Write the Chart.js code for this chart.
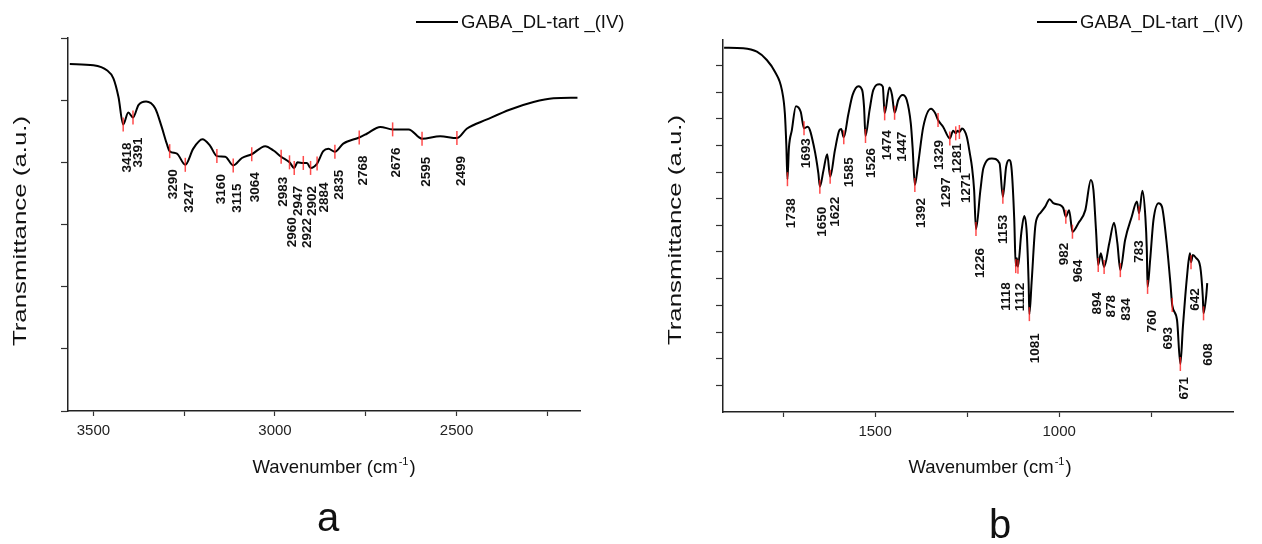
<!DOCTYPE html>
<html>
<head>
<meta charset="utf-8">
<script src="https://cdn.jsdelivr.net/npm/chart.js@4.4.1/dist/chart.umd.min.js"></script>
<style>
  body { margin: 0; background: #fff; }
  #wrap { position: relative; width: 1262px; height: 544px; }
  canvas { position: absolute; top: 0; }
  #panelA { left: 0; }
  #panelB { left: 640px; }
</style>
</head>
<body>
<div id="wrap">
  <canvas id="panelA" width="640" height="544"></canvas>
  <canvas id="panelB" width="622" height="544"></canvas>
</div>
<script>
// Panel a: 3570 - 2160 cm-1
var wavenumberA = [3565, 3500, 3463, 3445, 3431, 3418, 3404, 3391, 3376, 3355,
    3330, 3312, 3298, 3290, 3270, 3247, 3225, 3200, 3179, 3160,
    3137, 3115, 3091, 3064, 3027, 3004, 2983, 2960, 2947, 2938,
    2922, 2912, 2902, 2884, 2867, 2853, 2835, 2812, 2768, 2747,
    2710, 2676, 2632, 2595, 2545, 2499, 2472, 2416, 2352, 2288,
    2233, 2167];
var transmittanceA = [5.58, 5.56, 5.48, 5.35, 5.05, 4.61, 4.80, 4.72, 4.92, 4.98,
    4.87, 4.57, 4.30, 4.18, 4.14, 3.96, 4.22, 4.37, 4.27, 4.10,
    4.09, 3.95, 4.07, 4.13, 4.26, 4.19, 4.09, 4.00, 3.91, 4.00,
    3.99, 3.99, 3.91, 3.98, 4.18, 4.22, 4.17, 4.30, 4.40, 4.46,
    4.57, 4.53, 4.53, 4.38, 4.42, 4.39, 4.54, 4.69, 4.85, 4.97,
    5.03, 5.04];
var peaksA = [3418, 3391, 3290, 3247, 3160, 3115, 3064, 2983, 2960, 2947,
    2922, 2902, 2884, 2835, 2768, 2676, 2595, 2499];

// Panel b: 1915 - 530 cm-1
var wavenumberB = [1910, 1858, 1821, 1794, 1772, 1753, 1745, 1741, 1738, 1734,
    1726, 1715, 1702, 1693, 1683, 1666, 1654, 1650, 1640, 1630,
    1622, 1609, 1597, 1592, 1585, 1573, 1561, 1545, 1535, 1530,
    1526, 1515, 1505, 1488, 1479, 1474, 1461, 1454, 1447, 1437,
    1425, 1414, 1403, 1398, 1392, 1384, 1369, 1348, 1337, 1329,
    1315, 1297, 1288, 1281, 1276, 1271, 1264, 1251, 1242, 1237,
    1231, 1226, 1214, 1206, 1183, 1162, 1153, 1144, 1136, 1129,
    1122, 1118, 1115, 1112, 1103, 1095, 1088, 1083, 1081, 1075,
    1065, 1056, 1052, 1038, 1026, 1016, 997, 989, 982, 973,
    964, 948, 929, 914, 907, 900, 894, 887, 878, 864,
    851, 842, 834, 821, 803, 789, 783, 774, 766, 762,
    760, 753, 744, 730, 721, 709, 698, 693, 680, 671,
    664, 653, 645, 642, 637, 628, 617, 610, 608, 601,
    598];
var transmittanceB = [13.66, 13.64, 13.51, 13.20, 12.76, 12.07, 11.20, 10.00, 8.73, 9.90,
    10.57, 11.47, 11.26, 10.64, 10.70, 9.95, 8.95, 8.45, 9.07, 9.67,
    8.82, 9.82, 10.57, 10.61, 10.30, 11.14, 11.89, 12.22, 12.07, 11.45,
    10.35, 11.32, 12.07, 12.29, 12.20, 11.20, 12.17, 11.89, 11.22, 11.70,
    11.89, 11.70, 10.82, 9.90, 8.51, 9.20, 10.70, 11.37, 11.21, 10.95,
    10.69, 10.26, 10.55, 10.45, 10.55, 10.50, 10.63, 10.32, 9.64, 9.20,
    8.32, 6.86, 8.32, 9.14, 9.51, 9.33, 8.07, 9.20, 9.45, 9.07,
    7.20, 5.47, 5.77, 5.45, 6.70, 7.35, 6.70, 4.83, 3.67, 4.84,
    6.95, 7.39, 7.45, 7.70, 7.98, 7.83, 7.76, 7.65, 7.32, 7.57,
    6.76, 7.08, 7.57, 8.70, 8.32, 6.82, 5.51, 5.95, 5.44, 6.33,
    7.10, 6.33, 5.32, 6.45, 7.32, 7.89, 7.45, 8.30, 7.32, 6.07,
    4.69, 5.70, 7.20, 7.83, 7.70, 6.45, 4.83, 4.01, 3.45, 1.80,
    3.20, 5.07, 5.95, 5.62, 5.89, 5.77, 5.45, 4.32, 3.70, 4.32,
    4.83];
var peaksB = [1738, 1693, 1650, 1622, 1585, 1526, 1474, 1447, 1392, 1329,
    1297, 1281, 1271, 1226, 1153, 1118, 1112, 1081, 982, 964,
    894, 878, 834, 783, 760, 693, 671, 642, 608];

var seriesName = 'GABA_DL-tart _(IV)';
var FONT = '"Liberation Sans", Arial, Helvetica, sans-serif';

// where each peak label sits relative to its red mark (dx, dy in px)
var labelShiftA = { 2983: [2, 20], 2960: [3, 55], 2922: [4, 55], 2902: [2, 18], 2884: [7, 19], 3391: [5, 20] };
var labelShiftB = {
    1693: [2, 10], 1650: [2, 20], 1622: [5, 20], 1585: [6, 20], 1526: [6, 12],
    1474: [3, 17], 1447: [8, 19], 1392: [6, 13], 1329: [1, 20], 1297: [-4, 39],
    1281: [2, 10], 1271: [7, 41], 1153: [0, 18], 1118: [-9, 16], 1112: [2, 16],
    1081: [6, 19], 982: [-2, 26], 964: [6, 28], 894: [-1, 27], 878: [7, 28],
    834: [6, 28], 783: [0, 27], 760: [5, 23], 693: [-4, 22], 671: [4, 13],
    642: [4, 26], 608: [5, 30]
};

// rotated text, reading upwards; stretch > 1 lengthens it along its direction
function vText(ctx, text, x, y, align, stretch) {
    ctx.save();
    ctx.translate(x, y);
    ctx.rotate(-Math.PI / 2);
    if (stretch) ctx.scale(stretch, 1);
    ctx.textAlign = align;
    ctx.textBaseline = 'middle';
    ctx.fillText(text, 0, 0);
    ctx.restore();
}

var decorPlugin = {
    id: 'decor',
    afterDatasetsDraw: function(chart) {
        var o = chart.options.plugins.decor;
        var ctx = chart.ctx;
        var area = chart.chartArea;

        // peak labels
        ctx.save();
        ctx.fillStyle = '#111';
        ctx.font = 'bold 13.5px ' + FONT;
        chart.getDatasetMeta(1).data.forEach(function(pt, i) {
            var p = o.peaks[i];
            var s = o.shift[p] || o.defShift;
            vText(ctx, String(p), pt.x + s[0], pt.y + s[1], 'right');
        });
        ctx.restore();

        // legend
        ctx.save();
        ctx.strokeStyle = '#000';
        ctx.lineWidth = 2;
        ctx.beginPath();
        ctx.moveTo(o.legend[0], o.legend[2]);
        ctx.lineTo(o.legend[1], o.legend[2]);
        ctx.stroke();
        ctx.fillStyle = '#111';
        ctx.font = '18.5px ' + FONT;
        ctx.textBaseline = 'middle';
        ctx.fillText(seriesName, o.legend[1] + 3, o.legend[2] + 1);

        // y title
        ctx.font = '19px ' + FONT;
        vText(ctx, 'Transmittance (a.u.)', o.yTitle[0], o.yTitle[1], 'center', 1.36);

        // x title with superscript
        var main = 'Wavenumber (cm', sup = '-1', end = ')';
        ctx.textBaseline = 'alphabetic';
        ctx.textAlign = 'left';
        ctx.font = '18.5px ' + FONT;
        var w1 = ctx.measureText(main).width;
        var w3 = ctx.measureText(end).width;
        ctx.font = '11px ' + FONT;
        var w2 = ctx.measureText(sup).width;
        var cx = (area.left + area.right) / 2 + o.xTitle[0];
        var x0 = cx - (w1 + w2 + w3 + 2) / 2;
        ctx.font = '18.5px ' + FONT;
        ctx.fillText(main, x0, o.xTitle[1]);
        ctx.font = '11px ' + FONT;
        ctx.fillText(sup, x0 + w1 + 1, o.xTitle[1] - 8);
        ctx.font = '18.5px ' + FONT;
        ctx.fillText(end, x0 + w1 + w2 + 2, o.xTitle[1]);

        // panel letter
        ctx.font = '40px ' + FONT;
        ctx.textAlign = 'center';
        ctx.fillText(o.letter, o.letterPos[0], o.letterPos[1]);
        ctx.restore();
    }
};

function buildSpectrum(canvasId, wn, tr, peaks, lay) {
    var curve = wn.map(function(w, i) { return { x: w, y: tr[i] }; });
    var marks = peaks.map(function(p) { return { x: p, y: tr[wn.indexOf(p)] }; });

    return new Chart(document.getElementById(canvasId), {
        type: 'line',
        data: {
            datasets: [{
                label: seriesName,
                data: curve,
                borderColor: '#000',
                borderWidth: 2,
                pointRadius: 0,
                cubicInterpolationMode: 'monotone',
                order: 1
            }, {
                label: 'peaks',
                data: marks,
                showLine: false,
                pointStyle: 'line',
                rotation: 90,
                pointRadius: 7,
                borderColor: 'rgba(255, 30, 30, 0.8)',
                borderWidth: 1.5,
                order: 0
            }]
        },
        options: {
            responsive: false,
            animation: false,
            events: [],
            layout: { padding: lay.padding, autoPadding: false },
            plugins: {
                legend: { display: false },
                tooltip: { enabled: false },
                decor: {
                    peaks: peaks,
                    shift: lay.shift,
                    defShift: lay.defShift,
                    legend: lay.legend,
                    yTitle: lay.yTitle,
                    xTitle: lay.xTitle,
                    letter: lay.letter,
                    letterPos: lay.letterPos
                }
            },
            scales: {
                x: {
                    type: 'linear',
                    min: lay.xMin,
                    max: lay.xMax,
                    reverse: true,
                    ticks: {
                        stepSize: 250,
                        includeBounds: false,
                        autoSkip: false,
                        maxRotation: 0,
                        padding: 6,
                        color: '#222',
                        font: { family: FONT, size: 15 },
                        callback: function(v) { return v % 500 === 0 ? String(v) : ''; }
                    },
                    grid: { drawOnChartArea: false, tickLength: 5, color: '#333', tickWidth: 1.2 },
                    border: { color: '#222', width: 1.5 },
                    afterFit: function(s) { s.height = lay.xHeight; }
                },
                y: {
                    min: 0,
                    max: lay.yMax,
                    ticks: { stepSize: 1, includeBounds: false, display: false },
                    grid: {
                        drawOnChartArea: false,
                        tickLength: 7,
                        tickWidth: 1.2,
                        tickColor: function(c) { return (lay.hideZeroTick && c.tick && c.tick.value === 0) ? 'rgba(0,0,0,0)' : '#333'; }
                    },
                    border: { color: '#222', width: 1.5 },
                    afterFit: function(s) { s.width = lay.yWidth; }
                }
            }
        },
        plugins: [decorPlugin]
    });
}

buildSpectrum('panelA', wavenumberA, transmittanceA, peaksA, {
    xMin: 2160, xMax: 3570, yMax: 6,
    padding: { left: 0, right: 60, top: 38, bottom: 0 },
    yWidth: 68, xHeight: 133,
    shift: labelShiftA, defShift: [4, 18],
    legend: [416, 458, 22],
    yTitle: [21, 231],
    xTitle: [10, 473],
    letter: 'a', letterPos: [328, 531]
});

buildSpectrum('panelB', wavenumberB, transmittanceB, peaksB, {
    xMin: 528, xMax: 1913, yMax: 13.95, hideZeroTick: true,
    padding: { left: 0, right: 29, top: 40, bottom: 0 },
    yWidth: 83, xHeight: 132,
    shift: labelShiftB, defShift: [4, 19],
    legend: [397, 437, 22],
    yTitle: [36, 230],
    xTitle: [12, 473],
    letter: 'b', letterPos: [360, 538]
});
</script>
</body>
</html>
